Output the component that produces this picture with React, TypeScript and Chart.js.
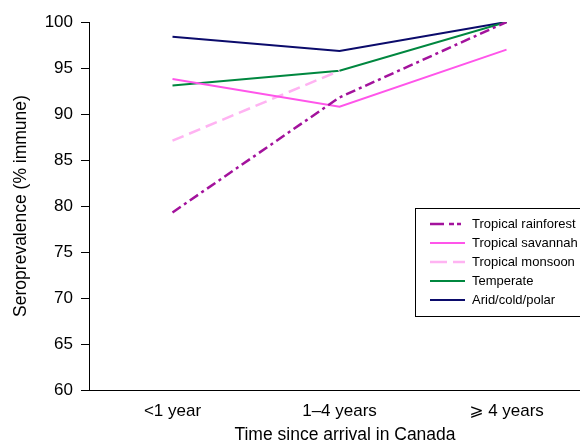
import React, { useEffect, useRef } from "react";
import { Chart, registerables } from "chart.js";

Chart.register(...registerables);

const categories = ["<1 year", "1–4 years", "\u2A7E 4 years"];
const tropicalRainforest = [79.3, 91.8, 100];
const tropicalSavannah = [93.8, 90.8, 97.0];
const tropicalMonsoon = [87.1, 94.7, null];
const temperate = [93.1, 94.7, 100];
const aridColdPolar = [98.4, 96.85, 100];
const yTicks = [60, 65, 70, 75, 80, 85, 90, 95, 100];
const xTitle = "Time since arrival in Canada";
const yTitle = "Seroprevalence (% immune)";

const FONT = "'Liberation Sans', Arial, Helvetica, 'DejaVu Sans', sans-serif";

const legendPlugin = {
  id: "boxLegend",
  afterDraw(chart: any) {
    const ctx = chart.ctx as CanvasRenderingContext2D;
    ctx.save();
    // x-axis title
    ctx.fillStyle = "#000";
    ctx.font = `17.5px ${FONT}`;
    ctx.textAlign = "center";
    ctx.textBaseline = "alphabetic";
    ctx.fillText(xTitle, 345, 440);

    ctx.fillStyle = "#fff";
    ctx.fillRect(415.5, 208.5, 200, 108);
    ctx.strokeStyle = "#000";
    ctx.lineWidth = 1;
    ctx.setLineDash([]);
    ctx.strokeRect(415.5, 208.5, 200, 108);
    const rows = [224, 243, 262, 281, 300];
    chart.data.datasets.forEach((ds: any, i: number) => {
      const y = rows[i];
      ctx.beginPath();
      ctx.strokeStyle = ds.borderColor;
      ctx.lineWidth = ds.borderWidth;
      ctx.setLineDash(ds.legendDash || []);
      ctx.moveTo(430, y);
      ctx.lineTo(465, y);
      ctx.stroke();
      ctx.setLineDash([]);
      ctx.fillStyle = "#000";
      ctx.font = `13px ${FONT}`;
      ctx.textBaseline = "middle";
      ctx.textAlign = "left";
      ctx.fillText(ds.label, 472, y + 0.5);
    });
    ctx.restore();
  },
};

export default function App() {
  const ref = useRef<HTMLCanvasElement | null>(null);
  useEffect(() => {
    document.body.style.margin = "0";
    const toPts = (arr: (number | null)[]) =>
      arr.map((v, i) => ({ x: i, y: v }));
    const chart = new Chart(ref.current as HTMLCanvasElement, {
      type: "line",
      data: {
        datasets: [
          {
            label: "Tropical rainforest",
            data: toPts(tropicalRainforest) as any,
            borderColor: "#a3129c",
            borderWidth: 2.5,
            borderDash: [10, 4, 3, 4],
            legendDash: [14, 5, 5, 3, 4, 10],
            pointRadius: 0,
          } as any,
          {
            label: "Tropical savannah",
            data: toPts(tropicalSavannah) as any,
            borderColor: "#ff55ea",
            borderWidth: 2,
            pointRadius: 0,
          },
          {
            label: "Tropical monsoon",
            data: toPts(tropicalMonsoon) as any,
            borderColor: "#ffb3f2",
            borderWidth: 2.5,
            borderDash: [12, 6],
            legendDash: [17, 6, 12, 6],
            pointRadius: 0,
          } as any,
          {
            label: "Temperate",
            data: toPts(temperate) as any,
            borderColor: "#00873f",
            borderWidth: 2,
            pointRadius: 0,
          },
          {
            label: "Arid/cold/polar",
            data: toPts(aridColdPolar) as any,
            borderColor: "#0b0b6b",
            borderWidth: 2,
            pointRadius: 0,
          },
        ],
      },
      options: {
        responsive: false,
        animation: false,
        layout: { padding: { top: 22, right: 0, left: 0, bottom: 0 } },
        plugins: { legend: { display: false }, tooltip: { enabled: false } },
        scales: {
          x: {
            type: "linear",
            min: -0.5,
            max: 2.44,
            afterBuildTicks: (s: any) => {
              s.ticks = categories.map((_, i) => ({ value: i }));
            },
            afterFit: (s: any) => {
              s.height = 52;
            },
            grid: { display: false, drawTicks: false },
            border: { display: true, color: "#000", width: 1 },
            ticks: {
              color: "#000",
              font: { family: FONT, size: 17 },
              padding: 11,
              maxRotation: 0,
              autoSkip: false,
              callback: (v: any) => categories[v as number] ?? "",
            },
            title: { display: false },
          },
          y: {
            min: 60,
            max: 100,
            afterBuildTicks: (s: any) => {
              s.ticks = yTicks.map((v) => ({ value: v }));
            },
            afterFit: (s: any) => {
              s.width = 89;
            },
            grid: {
              display: true,
              drawOnChartArea: false,
              drawTicks: true,
              tickLength: 8,
              color: "#000",
            },
            border: { display: true, color: "#000", width: 1 },
            ticks: {
              color: "#000",
              font: { family: FONT, size: 17 },
              padding: 8,
            },
            title: {
              display: true,
              text: yTitle,
              color: "#000",
              font: { family: FONT, size: 17.5 },
              padding: { top: 11, bottom: 0 },
            },
          },
        },
      },
      plugins: [legendPlugin],
    });
    return () => chart.destroy();
  }, []);
  return (
    <div style={{ position: "absolute", left: 0, top: 0, width: 580, height: 442, background: "#fff" }}>
      <canvas ref={ref} width={580} height={442} />
    </div>
  );
}
